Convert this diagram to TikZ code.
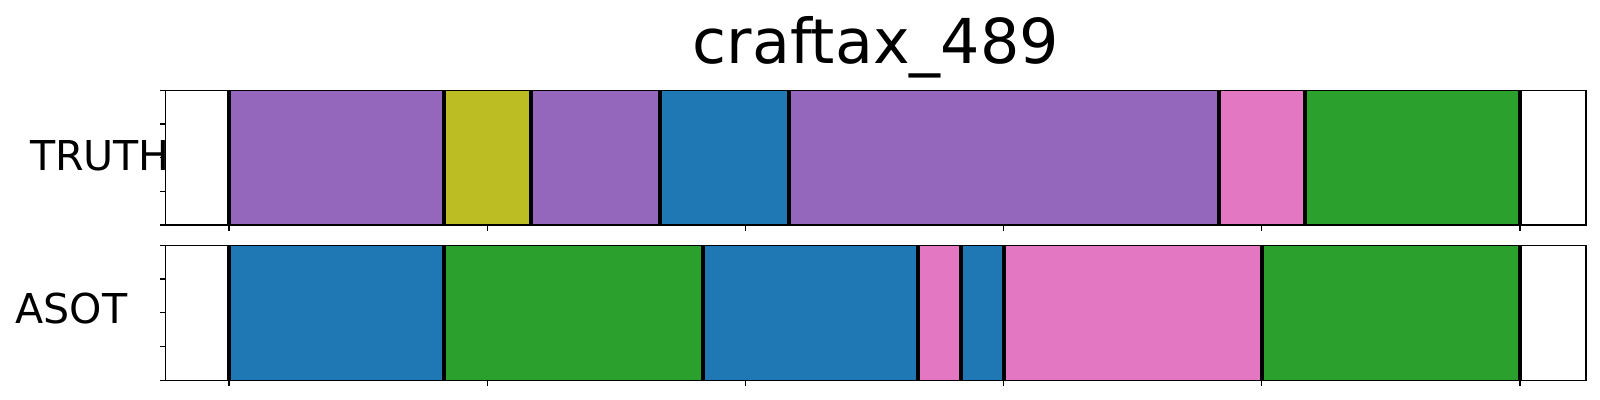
\documentclass[tikz,border=0pt]{standalone}
\usepackage{fontspec}
\setmainfont{DejaVu Sans}
\definecolor{tabpurple}{HTML}{9467BD}
\definecolor{tabolive}{HTML}{BCBD22}
\definecolor{tabblue}{HTML}{1F77B4}
\definecolor{tabgreen}{HTML}{2CA02C}
\definecolor{tabpink}{HTML}{E377C2}
\tikzset{
  seg/.style={fill=#1, draw=#1!85!black, line width=0.3pt},
  bound/.style={line width=1.15pt, black},
  axframe/.style={line width=0.45pt, black},
  axtick/.style={line width=0.3pt, black},
  lab/.style={inner sep=0pt, font=\fontsize{11.7}{14}\selectfont}
}
\begin{document}
\begin{tikzpicture}[x=0.01cm, y=-0.01cm]
    \useasboundingbox (0,0) rectangle (1600,400);

    % Title
    \node[anchor=base, inner sep=0pt, font=\fontsize{17.6}{20}\selectfont] (title) at (875.7,63) {craftax\_489};

    % Row labels
    \node[lab, anchor=base west] (truth) at (29.3,170) {TRUTH};
    \node[lab, anchor=base west] (asot) at (15,323.3) {ASOT};

    % TRUTH segments
    \fill[seg=tabpurple] (229,90.3) rectangle (444,225);
    \fill[seg=tabolive] (444,90.3) rectangle (531,225);
    \fill[seg=tabpurple] (531,90.3) rectangle (660,225);
    \fill[seg=tabblue] (660,90.3) rectangle (788.7,225);
    \fill[seg=tabpurple] (788.7,90.3) rectangle (1218.7,225);
    \fill[seg=tabpink] (1218.7,90.3) rectangle (1305,225);
    \fill[seg=tabgreen] (1305,90.3) rectangle (1520,225);

    % ASOT segments
    \fill[seg=tabblue] (229,245.3) rectangle (444,380.3);
    \fill[seg=tabgreen] (444,245.3) rectangle (702.7,380.3);
    \fill[seg=tabblue] (702.7,245.3) rectangle (917.7,380.3);
    \fill[seg=tabpink] (917.7,245.3) rectangle (960.7,380.3);
    \fill[seg=tabblue] (960.7,245.3) rectangle (1004,380.3);
    \fill[seg=tabpink] (1004,245.3) rectangle (1261.7,380.3);
    \fill[seg=tabgreen] (1261.7,245.3) rectangle (1520,380.3);

    % Segment boundaries
    \draw[bound] (229,90.3) -- (229,225) (444,90.3) -- (444,225)
      (531,90.3) -- (531,225) (660,90.3) -- (660,225)
      (788.7,90.3) -- (788.7,225) (1218.7,90.3) -- (1218.7,225)
      (1305,90.3) -- (1305,225) (1520,90.3) -- (1520,225);
    \draw[bound] (229,245.3) -- (229,380.3) (444,245.3) -- (444,380.3)
      (702.7,245.3) -- (702.7,380.3) (917.7,245.3) -- (917.7,380.3)
      (960.7,245.3) -- (960.7,380.3) (1004,245.3) -- (1004,380.3)
      (1261.7,245.3) -- (1261.7,380.3) (1520,245.3) -- (1520,380.3);

    % Axes frames
    \draw[axframe] (165.7,90.3) rectangle (1585.7,225);
    \draw[axframe] (165.7,245.3) rectangle (1585.7,380.3);

    % Ticks
    \draw[axtick] (229,225) -- ++(0,6) (487.2,225) -- ++(0,6)
      (745.4,225) -- ++(0,6) (1003.6,225) -- ++(0,6)
      (1261.8,225) -- ++(0,6) (1520,225) -- ++(0,6);
    \draw[axtick] (229,380.3) -- ++(0,6) (487.2,380.3) -- ++(0,6)
      (745.4,380.3) -- ++(0,6) (1003.6,380.3) -- ++(0,6)
      (1261.8,380.3) -- ++(0,6) (1520,380.3) -- ++(0,6);
    \draw[axtick] (165.7,90.3) -- ++(-6,0) (165.7,124) -- ++(-6,0)
      (165.7,157.7) -- ++(-6,0) (165.7,191.3) -- ++(-6,0)
      (165.7,225) -- ++(-6,0);
    \draw[axtick] (165.7,245.3) -- ++(-6,0) (165.7,279) -- ++(-6,0)
      (165.7,312.8) -- ++(-6,0) (165.7,346.5) -- ++(-6,0)
      (165.7,380.3) -- ++(-6,0);
\end{tikzpicture}
\end{document}
